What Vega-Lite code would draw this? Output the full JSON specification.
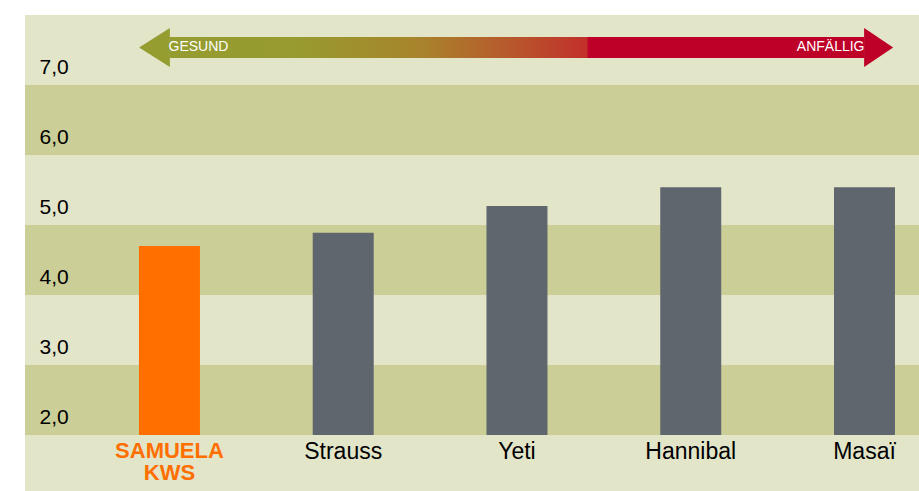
{
  "$schema": "https://vega.github.io/schema/vega-lite/v6.json",
  "width": 894,
  "height": 476,
  "autosize": "none",
  "padding": {"left": 25, "top": 15, "right": 0, "bottom": 0},
  "background": "white",
  "view": {"fill": "#e3e5c9", "stroke": null},
  "config": {"font": "Liberation Sans"},
  "layer": [
    {
      "data": {"values": [{"lo": 2, "hi": 3}, {"lo": 4, "hi": 5}, {"lo": 6, "hi": 7}]},
      "mark": {"type": "rect", "color": "#cbcf97"},
      "encoding": {
        "y": {
          "field": "lo", "type": "quantitative",
          "scale": {"domain": [1.2, 8], "nice": false, "zero": false},
          "axis": {
            "title": null, "values": [2, 3, 4, 5, 6, 7], "domain": false, "ticks": false, "grid": false,
            "zindex": 1,
            "labelAlign": "left", "labelPadding": -14, "labelOffset": -12, "labelBaseline": "alphabetic",
            "labelFontSize": 21, "labelColor": "#000000", "labelOverlap": false, "labelFlush": false,
            "labelExpr": "replace(format(datum.value, '.1f'), '.', ',')"
          }
        },
        "y2": {"field": "hi"}
      }
    },
    {
      "data": {"values": [
        {"sorte": "SAMUELA KWS", "wert": 4.7},
        {"sorte": "Strauss", "wert": 4.89},
        {"sorte": "Yeti", "wert": 5.27},
        {"sorte": "Hannibal", "wert": 5.54},
        {"sorte": "Masaï", "wert": 5.54}
      ]},
      "mark": {"type": "bar"},
      "encoding": {
        "x": {
          "field": "sorte", "type": "nominal", "sort": null,
          "scale": {"paddingInner": 0.649, "paddingOuter": 0.397, "align": 0.826},
          "axis": {
            "title": null, "orient": "bottom", "offset": -56, "domain": false, "ticks": false,
            "zindex": 1,
            "labelAngle": 0, "labelPadding": 5, "labelBaseline": "top",
            "labelFontSize": {"expr": "datum.value == 'SAMUELA KWS' ? 22 : 23"},
            "labelLineHeight": 22, "labelOverlap": false, "labelLimit": 0,
            "labelExpr": "datum.value == 'SAMUELA KWS' ? ['SAMUELA', 'KWS'] : datum.value",
            "labelColor": {"expr": "datum.value == 'SAMUELA KWS' ? '#ff6f00' : '#000000'"},
            "labelFontWeight": {"expr": "datum.value == 'SAMUELA KWS' ? 'bold' : 'normal'"}
          }
        },
        "y": {
          "field": "wert", "type": "quantitative",
          "scale": {"domain": [1.2, 8], "nice": false, "zero": false}
        },
        "y2": {"datum": 2},
        "color": {
          "field": "sorte", "type": "nominal",
          "scale": {"domain": ["SAMUELA KWS", "Strauss", "Yeti", "Hannibal", "Masaï"], "range": ["#ff6f00", "#5f666e", "#5f666e", "#5f666e", "#5f666e"]},
          "legend": null
        }
      }
    },
    {
      "layer": [
        {
          "data": {"values": [{"von": 0, "bis": 4, "unten": 7.386, "oben": 7.686}]},
          "mark": {
            "type": "rect",
            "fill": {
              "gradient": "linear", "x1": 0, "y1": 0, "x2": 1, "y2": 0,
              "stops": [
                {"offset": 0, "color": "#959c30"},
                {"offset": 0.18, "color": "#979b30"},
                {"offset": 0.36, "color": "#a8842c"},
                {"offset": 0.48, "color": "#b65c2c"},
                {"offset": 0.6, "color": "#c2302a"},
                {"offset": 0.603, "color": "#be0028"},
                {"offset": 1, "color": "#be0028"}
              ]
            }
          },
          "encoding": {
            "x": {"field": "von", "type": "quantitative", "scale": {"domain": [-0.8317, 4.3137], "nice": false, "zero": false}, "axis": null},
            "x2": {"field": "bis"},
            "y": {"field": "unten", "type": "quantitative"},
            "y2": {"field": "oben"}
          }
        },
        {
          "data": {"values": [
            {"px": -0.175, "u": 7.536, "o": 7.536},
            {"px": 0.002, "u": 7.257, "o": 7.814}
          ]},
          "mark": {"type": "area", "color": "#959c30"},
          "encoding": {
            "x": {"field": "px", "type": "quantitative"},
            "y": {"field": "u", "type": "quantitative"},
            "y2": {"field": "o"}
          }
        },
        {
          "data": {"values": [
            {"px": 3.998, "u": 7.257, "o": 7.814},
            {"px": 4.165, "u": 7.536, "o": 7.536}
          ]},
          "mark": {"type": "area", "color": "#be0028"},
          "encoding": {
            "x": {"field": "px", "type": "quantitative"},
            "y": {"field": "u", "type": "quantitative"},
            "y2": {"field": "o"}
          }
        },
        {
          "data": {"values": [{"t": "GESUND", "px": 0, "py": 7.536}]},
          "mark": {"type": "text", "align": "left", "baseline": "middle", "color": "#ffffff", "fontSize": 14, "dx": -1},
          "encoding": {
            "x": {"field": "px", "type": "quantitative"},
            "y": {"field": "py", "type": "quantitative"},
            "text": {"field": "t"}
          }
        },
        {
          "data": {"values": [{"t": "ANFÄLLIG", "px": 4, "py": 7.536}]},
          "mark": {"type": "text", "align": "right", "baseline": "middle", "color": "#ffffff", "fontSize": 14},
          "encoding": {
            "x": {"field": "px", "type": "quantitative"},
            "y": {"field": "py", "type": "quantitative"},
            "text": {"field": "t"}
          }
        }
      ]
    }
  ],
  "resolve": {"scale": {"x": "independent", "color": "independent"}, "axis": {"x": "independent"}}
}
